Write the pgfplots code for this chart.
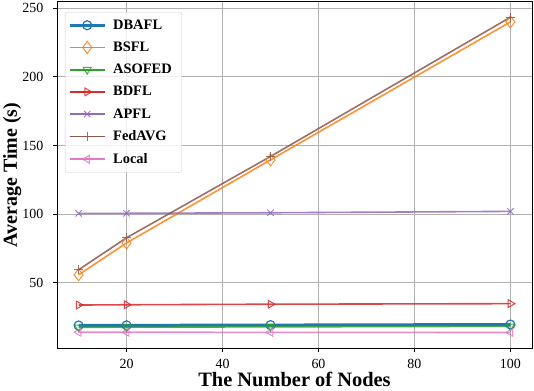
\documentclass[border=0pt]{standalone}
\usepackage{fontspec}
\setmainfont{Liberation Serif}
\usepackage{pgfplots}
\pgfplotsset{compat=1.18}
\definecolor{tabblue}{HTML}{1F77B4}
\definecolor{taborange}{HTML}{FF7F0E}
\definecolor{tabgreen}{HTML}{2CA02C}
\definecolor{tabred}{HTML}{D62728}
\definecolor{tabpurple}{HTML}{9467BD}
\definecolor{tabbrown}{HTML}{8C564B}
\definecolor{tabpink}{HTML}{E377C2}
\begin{document}
\begin{tikzpicture}
\begin{axis}[
  scale only axis,
  width=475bp, height=346bp,
  xmin=5.5, xmax=104.5, ymin=2.5, ymax=254.5,
  xtick={20,40,60,80,100},
  ytick={50,100,150,200,250},
  grid=major,
  grid style={color=black!31, line width=0.8bp},
  axis line style={line width=1bp},
  tick align=outside,
  tick style={black, line width=0.8bp},
  major tick length=4bp,
  tick pos=left,
  /pgf/number format/assume math mode=true,
  ticklabel style={font=\fontsize{14}{16}\selectfont},
  yticklabel style={inner sep=0pt, xshift=-9.5bp},
  xticklabel style={inner sep=0pt, yshift=-7bp},
  xlabel={\textbf{The Number of Nodes}},
  ylabel={\textbf{Average Time (s)}},
  xlabel style={font=\fontsize{20.5}{22}\selectfont, at={([yshift=-38.5bp]axis description cs:0.5,0)}, anchor=base, inner sep=0pt},
  ylabel style={font=\fontsize{20}{22}\selectfont, at={([xshift=-40bp]axis description cs:0,0.5)}, rotate=0, anchor=base, inner sep=0pt},
  legend style={at={(0.0168,0.971)}, anchor=north west, font=\bfseries\fontsize{14.5}{16}\selectfont,
    draw=black!20, rounded corners=2bp, fill=white, fill opacity=0.8, text opacity=1,
    row sep=7.2bp, inner xsep=3bp, inner ysep=5.5bp,
    nodes={inner xsep=7bp}},
  legend cell align=left,
  legend image code/.code={
    \draw[#1] (0bp,0bp) -- (35bp,0bp);
    \draw[#1, mark repeat=2, mark phase=2] plot coordinates {(0bp,0bp) (17.5bp,0bp) (35bp,0bp)};
  },
  every axis plot/.append style={line width=1.6bp, mark size=4.5bp},
]
\addplot[color=tabblue, line width=3bp, mark=o, mark options={line width=1.2bp}] coordinates {(10,18.9) (20,19) (50,19.2) (100,19.6)};
\addlegendentry{DBAFL}
\addplot[color=taborange, draw opacity=0.85, mark=diamond, mark size=6bp, mark options={line width=1bp}] coordinates {(10,55.8) (20,79) (50,139.5) (100,240)};
\addlegendentry{BSFL}
\addplot[color=tabgreen, draw opacity=0.85, mark=triangle, mark options={rotate=180, line width=1bp}] coordinates {(10,17.6) (20,17.7) (50,17.9) (100,18.3)};
\addlegendentry{ASOFED}
\addplot[color=tabred, draw opacity=0.85, mark=triangle, mark options={rotate=-90, line width=1bp}] coordinates {(10,33.8) (20,34) (50,34.4) (100,34.8)};
\addlegendentry{BDFL}
\addplot[color=tabpurple, draw opacity=0.85, mark=x, mark options={line width=1bp}] coordinates {(10,100.5) (20,100.6) (50,101) (100,102)};
\addlegendentry{APFL}
\addplot[color=tabbrown, draw opacity=0.85, mark=+, mark options={line width=1bp}] coordinates {(10,59.5) (20,82.8) (50,142) (100,243.4)};
\addlegendentry{FedAVG}
\addplot[color=tabpink, draw opacity=0.85, mark=triangle, mark options={rotate=90, line width=1bp}] coordinates {(10,14) (20,14) (50,13.9) (100,13.8)};
\addlegendentry{Local}
\end{axis}
\pgfresetboundingbox
\path[use as bounding box] ([shift={(-57bp,-42bp)}]current axis.south west) rectangle ([shift={(2bp,2bp)}]current axis.north east);
\end{tikzpicture}
\end{document}
